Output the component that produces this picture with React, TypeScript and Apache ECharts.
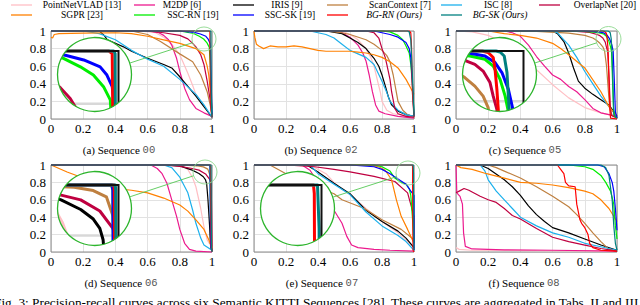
import React, { useEffect, useRef } from 'react';
import * as echarts from 'echarts';

// ---------- legend / methods ----------
const methodNames = [
  'PointNetVLAD [13]', 'M2DP [6]', 'IRIS [9]', 'ScanContext [7]', 'ISC [8]', 'OverlapNet [20]',
  'SGPR [23]', 'SSC-RN [19]', 'SSC-SK [19]', 'BG-RN (Ours)', 'BG-SK (Ours)',
];
const methodColors = [
  '#ffbfc4', '#ec1a8e', '#000000', '#bf8040', '#1cb0ec', '#bf0040',
  '#ff8000', '#00ee00', '#0000ff', '#ff0000', '#008080',
];
const italicMethods = [false, false, false, false, false, false, false, false, false, true, true];

// ---------- captions ----------
const captionPrefix = ['(a) Sequence ', '(b) Sequence ', '(c) Sequence ', '(d) Sequence ', '(e) Sequence ', '(f) Sequence '];
const sequenceIds = ['00', '02', '05', '06', '07', '08'];
const figureCaption = 'Fig. 3: Precision-recall curves across six Semantic KITTI Sequences [28]. These curves are aggregated in Tabs. II and III';

// ---------- data: [recall, precision] per method, order as methodNames ----------
const seq00 = [
  [[0, 1], [0.55, 1], [0.65, 0.98], [0.7, 0.93], [0.75, 0.85], [0.8, 0.73], [0.85, 0.52], [0.88, 0.38], [0.9, 0.28], [0.95, 0.14], [1, 0.03]],
  [[0, 1], [0.6, 1], [0.67, 0.98], [0.7, 0.95], [0.73, 0.9], [0.75, 0.84], [0.78, 0.69], [0.8, 0.54], [0.83, 0.35], [0.86, 0.22], [0.9, 0.12], [0.95, 0.07], [1, 0.03]],
  [[0, 1], [0.3, 1], [0.33, 0.95], [0.35, 0.9], [0.4, 0.86], [0.45, 0.82], [0.5, 0.77], [0.6, 0.69], [0.7, 0.62], [0.75, 0.58], [0.8, 0.48], [0.85, 0.37], [0.9, 0.26], [0.95, 0.14], [1, 0.02]],
  [[0, 1], [0.5, 1], [0.6, 0.96], [0.68, 0.88], [0.8, 0.74], [0.88, 0.65], [0.93, 0.5], [0.97, 0.31], [0.99, 0.15], [1, 0.03]],
  [[0, 1], [0.2, 1], [0.3, 0.97], [0.4, 0.9], [0.5, 0.78], [0.6, 0.68], [0.7, 0.6], [0.8, 0.45], [0.9, 0.28], [0.95, 0.16], [1, 0.02]],
  [[0, 1], [0.6, 1], [0.7, 0.98], [0.8, 0.95], [0.85, 0.91], [0.88, 0.86], [0.9, 0.82], [0.93, 0.73], [0.95, 0.62], [0.97, 0.43], [0.99, 0.2], [1, 0.02]],
  [[0, 0.93], [0.01, 0.92], [0.02, 0.96], [0.05, 0.97], [0.2, 0.975], [0.4, 0.98], [0.5, 0.97], [0.6, 0.94], [0.7, 0.9], [0.8, 0.86], [0.9, 0.8], [0.95, 0.73], [0.97, 0.6], [0.98, 0.5], [0.99, 0.3], [1, 0.12]],
  [[0, 1], [0.8, 1], [0.86, 0.98], [0.886, 0.972], [0.921, 0.94], [0.948, 0.909], [0.969, 0.865], [0.983, 0.815], [0.99, 0.6], [0.995, 0.3], [1, 0.05]],
  [[0, 1], [0.8, 1], [0.86, 0.99], [0.89, 0.984], [0.928, 0.966], [0.962, 0.94], [0.976, 0.909], [0.987, 0.865], [0.99, 0.815], [0.995, 0.4], [1, 0.05]],
  [[0, 1], [0.98, 1], [0.987, 0.99], [0.988, 0.8], [0.99, 0.4], [0.995, 0.1], [1, 0.02]],
  [[0, 1], [0.99, 1], [0.993, 0.99], [0.994, 0.5], [0.997, 0.1], [1, 0.02]],
];

const seq02 = [
  [[0, 1], [0.55, 1], [0.6, 0.96], [0.65, 0.9], [0.7, 0.8], [0.73, 0.7], [0.75, 0.6], [0.77, 0.45], [0.79, 0.3], [0.8, 0.2], [0.83, 0.1], [0.87, 0.06], [1, 0.02]],
  [[0, 1], [0.5, 1], [0.55, 0.98], [0.6, 0.93], [0.65, 0.84], [0.68, 0.75], [0.7, 0.66], [0.72, 0.5], [0.74, 0.31], [0.76, 0.16], [0.78, 0.09], [0.82, 0.06], [0.9, 0.03], [1, 0.01]],
  [[0, 1], [0.45, 1], [0.55, 0.97], [0.6, 0.92], [0.65, 0.87], [0.7, 0.8], [0.75, 0.69], [0.78, 0.6], [0.8, 0.5], [0.82, 0.38], [0.84, 0.25], [0.86, 0.16], [0.9, 0.09], [0.95, 0.05], [1, 0.03]],
  [[0, 1], [0.45, 1], [0.55, 0.98], [0.6, 0.96], [0.7, 0.9], [0.75, 0.85], [0.8, 0.78], [0.83, 0.72], [0.85, 0.65], [0.87, 0.5], [0.88, 0.4], [0.9, 0.2], [0.93, 0.1], [0.96, 0.05], [1, 0.02]],
  [[0, 1], [0.35, 1], [0.45, 0.96], [0.5, 0.92], [0.55, 0.85], [0.6, 0.78], [0.65, 0.74], [0.7, 0.7], [0.75, 0.62], [0.8, 0.43], [0.83, 0.3], [0.85, 0.2], [0.9, 0.1], [0.95, 0.05], [1, 0.03]],
  [[0, 1], [0.7, 1], [0.75, 0.98], [0.78, 0.92], [0.8, 0.8], [0.82, 0.7], [0.83, 0.62], [0.85, 0.45], [0.86, 0.31], [0.88, 0.12], [0.9, 0.06], [0.95, 0.03], [1, 0.02]],
  [[0, 1], [0.005, 0.93], [0.015, 0.85], [0.03, 0.83], [0.06, 0.8], [0.1, 0.83], [0.15, 0.82], [0.2, 0.82], [0.25, 0.83], [0.3, 0.82], [0.35, 0.8], [0.4, 0.78], [0.45, 0.77], [0.5, 0.77], [0.6, 0.77], [0.65, 0.76], [0.7, 0.75], [0.75, 0.73], [0.8, 0.7], [0.85, 0.65], [0.9, 0.58], [0.95, 0.45], [0.98, 0.35], [1, 0.28]],
  [[0, 1], [0.8, 1], [0.85, 0.99], [0.9, 0.95], [0.93, 0.9], [0.95, 0.83], [0.97, 0.75], [0.98, 0.62], [0.99, 0.4], [1, 0.05]],
  [[0, 1], [0.75, 1], [0.8, 0.98], [0.85, 0.96], [0.9, 0.93], [0.95, 0.87], [0.97, 0.8], [0.98, 0.7], [0.99, 0.4], [1, 0.03]],
  [[0, 1], [0.97, 1], [0.98, 0.98], [0.985, 0.8], [0.99, 0.3], [1, 0.02]],
  [[0, 1], [0.96, 1], [0.97, 0.99], [0.98, 0.9], [0.99, 0.5], [1, 0.03]],
];

const seq05 = [
  [[0, 1], [0.1, 0.99], [0.2, 0.95], [0.3, 0.86], [0.4, 0.72], [0.5, 0.56], [0.6, 0.39], [0.7, 0.24], [0.8, 0.13], [0.9, 0.07], [1, 0.03]],
  [[0, 1], [0.3, 1], [0.35, 0.98], [0.4, 0.94], [0.45, 0.84], [0.5, 0.71], [0.55, 0.6], [0.6, 0.5], [0.65, 0.45], [0.7, 0.37], [0.75, 0.31], [0.8, 0.22], [0.85, 0.12], [0.9, 0.07], [0.95, 0.05], [1, 0.03]],
  [[0, 1], [0.6, 1], [0.63, 0.97], [0.67, 0.88], [0.7, 0.75], [0.73, 0.58], [0.76, 0.43], [0.8, 0.35], [0.85, 0.28], [0.9, 0.22], [0.95, 0.16], [1, 0.03]],
  [[0, 1], [0.5, 0.995], [0.7, 0.975], [0.8, 0.95], [0.85, 0.92], [0.872, 0.894], [0.894, 0.86], [0.912, 0.82], [0.923, 0.774], [0.935, 0.6], [0.945, 0.35], [0.955, 0.12], [0.97, 0.04], [1, 0.02]],
  [[0, 1], [0.6, 1], [0.63, 0.98], [0.66, 0.92], [0.7, 0.84], [0.75, 0.7], [0.8, 0.54], [0.85, 0.4], [0.9, 0.26], [0.95, 0.14], [1, 0.03]],
  [[0, 1], [0.75, 0.995], [0.83, 0.985], [0.876, 0.96], [0.894, 0.947], [0.912, 0.92], [0.927, 0.874], [0.934, 0.82], [0.942, 0.767], [0.95, 0.5], [0.958, 0.15], [0.965, 0.04], [1, 0.01]],
  [[0, 1], [0.2, 1], [0.3, 0.97], [0.4, 0.95], [0.5, 0.92], [0.6, 0.86], [0.65, 0.8], [0.7, 0.73], [0.8, 0.58], [0.9, 0.31], [0.95, 0.14], [1, 0.03]],
  [[0, 1], [0.8, 0.995], [0.883, 0.98], [0.916, 0.967], [0.934, 0.94], [0.949, 0.887], [0.96, 0.82], [0.966, 0.767], [0.972, 0.45], [0.978, 0.12], [0.985, 0.03], [1, 0.01]],
  [[0, 1], [0.8, 1], [0.883, 0.991], [0.916, 0.98], [0.938, 0.954], [0.953, 0.914], [0.967, 0.847], [0.976, 0.774], [0.983, 0.45], [0.99, 0.08], [1, 0.01]],
  [[0, 1], [0.91, 1], [0.923, 0.994], [0.934, 0.974], [0.938, 0.927], [0.942, 0.847], [0.945, 0.767], [0.95, 0.45], [0.956, 0.1], [0.96, 0.01], [1, 0]],
  [[0, 1], [0.94, 1], [0.949, 0.996], [0.958, 0.98], [0.964, 0.914], [0.967, 0.82], [0.969, 0.76], [0.975, 0.4], [0.98, 0.05], [1, 0.01]],
];

const seq06 = [
  [[0, 1], [0.8, 1], [0.85, 0.95], [0.88, 0.85], [0.9, 0.75], [0.93, 0.5], [0.95, 0.29], [0.97, 0.14], [1, 0.05]],
  [[0, 1], [0.62, 1], [0.66, 0.96], [0.69, 0.9], [0.72, 0.79], [0.75, 0.6], [0.78, 0.41], [0.8, 0.26], [0.83, 0.1], [0.86, 0.03], [0.9, 0.01], [1, 0]],
  [[0, 1], [0.7, 1], [0.8, 0.99], [0.877, 0.941], [0.919, 0.903], [0.946, 0.865], [0.96, 0.828], [0.967, 0.783], [0.975, 0.6], [0.985, 0.3], [0.99, 0.1], [1, 0.01]],
  [[0, 1], [0.8, 1], [0.905, 0.991], [0.946, 0.978], [0.974, 0.953], [0.988, 0.878], [0.991, 0.796], [0.995, 0.4], [1, 0.02]],
  [[0, 1], [0.7, 1], [0.75, 0.97], [0.8, 0.86], [0.85, 0.68], [0.88, 0.48], [0.9, 0.33], [0.93, 0.16], [0.95, 0.08], [1, 0.02]],
  [[0, 1], [0.7, 1], [0.8, 0.985], [0.877, 0.96], [0.919, 0.941], [0.96, 0.897], [0.988, 0.828], [0.995, 0.79], [0.998, 0.4], [1, 0.02]],
  [[0, 1], [0.1, 0.92], [0.2, 0.85], [0.3, 0.77], [0.4, 0.73], [0.5, 0.71], [0.6, 0.68], [0.7, 0.62], [0.8, 0.54], [0.85, 0.47], [0.9, 0.37], [0.95, 0.26], [0.98, 0.14], [1, 0.05]],
  [[0, 1], [0.985, 1], [0.988, 0.98], [0.99, 0.5], [0.993, 0.05], [1, 0.01]],
  [[0, 1], [0.986, 1], [0.988, 0.98], [0.989, 0.5], [0.992, 0.05], [1, 0.01]],
  [[0, 1], [0.99, 1], [0.991, 0.98], [0.992, 0.5], [0.995, 0.05], [1, 0]],
  [[0, 1], [0.993, 1], [0.994, 0.98], [0.995, 0.5], [0.997, 0.05], [1, 0]],
];

const seq07 = [
  [[0, 1], [0.35, 1], [0.45, 0.9], [0.5, 0.8], [0.55, 0.72], [0.6, 0.66], [0.7, 0.5], [0.8, 0.35], [0.9, 0.22], [1, 0.05]],
  [[0, 1], [0.3, 1], [0.35, 0.94], [0.4, 0.8], [0.45, 0.65], [0.5, 0.48], [0.55, 0.33], [0.58, 0.18], [0.61, 0.08], [0.65, 0.05], [0.75, 0.03], [0.85, 0.02], [1, 0.01]],
  [[0, 1], [0.33, 1], [0.4, 0.92], [0.5, 0.79], [0.6, 0.67], [0.7, 0.48], [0.8, 0.35], [0.9, 0.24], [0.95, 0.16], [1, 0.05]],
  [[0, 1], [0.1, 1], [0.2, 0.9], [0.3, 0.82], [0.4, 0.74], [0.5, 0.67], [0.55, 0.6], [0.69, 0.5], [0.8, 0.37], [0.92, 0.26], [1, 0.14]],
  [[0, 1], [0.35, 1], [0.4, 0.9], [0.5, 0.78], [0.6, 0.66], [0.7, 0.46], [0.8, 0.3], [0.9, 0.19], [0.95, 0.12], [1, 0.02]],
  [[0, 1], [0.2, 1], [0.38, 0.98], [0.5, 0.95], [0.6, 0.92], [0.75, 0.87], [0.88, 0.81], [0.96, 0.68], [1, 0.41], [1, 0.1]],
  [[0, 1], [0.7, 1], [0.78, 0.98], [0.82, 0.94], [0.86, 0.83], [0.89, 0.6], [0.92, 0.41], [0.96, 0.26], [1, 0.1]],
  [[0, 1], [0.75, 1], [0.8, 0.98], [0.85, 0.93], [0.88, 0.85], [0.92, 0.8], [0.95, 0.78], [0.97, 0.73], [0.98, 0.65], [0.99, 0.4], [1, 0.1]],
  [[0, 1], [0.6, 1], [0.75, 0.98], [0.8, 0.95], [0.85, 0.9], [0.9, 0.84], [0.95, 0.78], [0.98, 0.7], [1, 0.65], [1, 0.02]],
  [[0, 1], [0.99, 1], [0.991, 0.98], [0.992, 0.5], [0.994, 0.02], [1, 0]],
  [[0, 1], [0.995, 1], [0.997, 0.9], [0.998, 0.5], [1, 0.02]],
];

const seq08 = [
  [[0, 0.05], [0.02, 0.03], [0.1, 0.02], [0.5, 0.015], [1, 0.01]],
  [[0, 1], [0.005, 0.68], [0.025, 0.64], [0.04, 0.55], [0.047, 0.22], [0.058, 0.065], [0.1, 0.035], [0.3, 0.025], [0.6, 0.02], [1, 0.01]],
  [[0, 1], [0.15, 1], [0.2, 0.96], [0.3, 0.83], [0.35, 0.75], [0.4, 0.65], [0.45, 0.53], [0.5, 0.43], [0.55, 0.35], [0.6, 0.28], [0.7, 0.22], [0.8, 0.15], [0.9, 0.08], [1, 0.02]],
  [[0, 1], [0.2, 1], [0.25, 0.97], [0.3, 0.93], [0.4, 0.85], [0.5, 0.75], [0.6, 0.64], [0.7, 0.52], [0.75, 0.43], [0.8, 0.33], [0.85, 0.22], [0.9, 0.12], [0.95, 0.03], [1, 0.01]],
  [[0, 1], [0.15, 1], [0.18, 0.93], [0.2, 0.83], [0.25, 0.7], [0.3, 0.6], [0.35, 0.5], [0.4, 0.4], [0.5, 0.3], [0.6, 0.22], [0.7, 0.17], [0.8, 0.1], [0.9, 0.06], [1, 0.02]],
  [[0, 0.68], [0.02, 0.7], [0.05, 0.73], [0.08, 0.71], [0.1, 0.69], [0.15, 0.64], [0.2, 0.6], [0.25, 0.57], [0.3, 0.5], [0.35, 0.42], [0.4, 0.38], [0.5, 0.27], [0.6, 0.17], [0.7, 0.12], [0.8, 0.08], [0.9, 0.04], [1, 0.01]],
  [[0, 1], [0.03, 0.97], [0.1, 0.95], [0.19, 0.9], [0.3, 0.85], [0.4, 0.8], [0.5, 0.79], [0.6, 0.77], [0.7, 0.74], [0.8, 0.7], [0.85, 0.67], [0.9, 0.6], [0.95, 0.5], [1, 0.35]],
  [[0, 1], [0.7, 1], [0.8, 0.98], [0.85, 0.95], [0.9, 0.88], [0.93, 0.8], [0.96, 0.7], [0.98, 0.55], [0.99, 0.3], [1, 0.15]],
  [[0, 1], [0.88, 1], [0.92, 0.98], [0.95, 0.9], [0.97, 0.8], [0.98, 0.7], [0.99, 0.5], [1, 0.25]],
  [[0, 1], [0.6, 1], [0.63, 1], [0.65, 0.95], [0.67, 0.9], [0.68, 0.8], [0.7, 0.76], [0.74, 0.75], [0.75, 0.55], [0.77, 0.37], [0.78, 0.33], [0.8, 0.28], [0.82, 0.2], [0.83, 0.1], [0.85, 0.05], [0.9, 0.02], [1, 0.01]],
  [[0, 1], [0.9, 1], [0.93, 0.97], [0.95, 0.88], [0.97, 0.6], [0.98, 0.3], [0.99, 0.1], [1, 0.02]],
];

const allSequences = [seq00, seq02, seq05, seq06, seq07, seq08];
const frameBox = [[0, 0], [0, 1], [1, 1], [1, 0], [0, 0]];
const insetFrame = [[0, 1], [1, 1], [1, 0]];

// ---------- layout ----------
const panels = [
  { left: 51, top: 31, width: 161, height: 88 },
  { left: 254, top: 31, width: 160, height: 88 },
  { left: 456, top: 31, width: 161, height: 88 },
  { left: 51, top: 165, width: 161, height: 87 },
  { left: 254, top: 165, width: 160, height: 87 },
  { left: 456, top: 165, width: 161, height: 87 },
];
const captionPos = [[119, 150], [321, 150], [525, 150], [121, 283], [322, 283], [524, 283]];
const insets = [
  { panel: 0, m: 3.0, small: [204, 39, 12] },
  { panel: 2, m: 2.85, small: [608.5, 39, 12.5] },
  { panel: 3, m: 2.9, small: [205, 172, 12] },
  { panel: 4, m: 5.0, small: [408, 173, 12] },
];
const R = 37;

const SERIF = 'Liberation Serif';
const MONO = 'Liberation Mono';

export default function App() {
  const ref = useRef<HTMLDivElement>(null);
  useEffect(() => {
    if (!ref.current) return;
    const chart = echarts.init(ref.current, undefined, { renderer: 'svg' });

    const grids: any[] = [];
    const xAxes: any[] = [];
    const yAxes: any[] = [];
    const series: any[] = [];
    const graphics: any[] = [];

    const fmt = (v: number) => String(Math.round(v * 10) / 10);

    panels.forEach((p, pi) => {
      grids.push({ left: p.left, top: p.top, width: p.width, height: p.height, show: false });
      const common = {
        gridIndex: pi, type: 'value', min: 0, max: 1, interval: 0.2,
        axisLine: { show: false }, axisTick: { show: false },
        splitLine: { show: true, lineStyle: { color: '#e2e2e2', width: 1 } },
        axisLabel: { fontFamily: SERIF, fontSize: 13, color: '#000', margin: 3, formatter: fmt },
      };
      xAxes.push({ ...common });
      yAxes.push({ ...common, axisLabel: { ...common.axisLabel, margin: 5 } });
      series.push({
        type: 'line', xAxisIndex: pi, yAxisIndex: pi, data: frameBox, symbol: 'none',
        lineStyle: { color: '#8a8a8a', width: 1 }, clip: false, silent: true, z: 2,
      });
      allSequences[pi].forEach((curve, ci) => {
        series.push({
          type: 'line', name: methodNames[ci], xAxisIndex: pi, yAxisIndex: pi, data: curve,
          symbol: 'none', showSymbol: false, clip: false, silent: true, z: 2,
          lineStyle: { color: methodColors[ci], width: 1.2 }, itemStyle: { color: methodColors[ci] },
        });
      });
      graphics.push({
        type: 'text', z: 10, silent: true,
        style: {
          x: captionPos[pi][0], y: captionPos[pi][1],
          text: `{a|${captionPrefix[pi]}}{b|${sequenceIds[pi]}}`,
          align: 'center', verticalAlign: 'middle', textAlign: 'center', textVerticalAlign: 'middle',
          rich: {
            a: { fontFamily: SERIF, fontSize: 11, fill: '#000' },
            b: { fontFamily: MONO, fontSize: 10.5, fill: '#555' },
          },
        },
      });
    });

    insets.forEach((ins, k) => {
      const p = panels[ins.panel];
      const gi = panels.length + k;
      const bx = p.left + 43.5;
      const by = p.top + 43.5;
      const W = p.width, H = p.height, m = ins.m;
      const xmin = 1 - (R + 24) / (m * W);
      const xmax = 1 + (R - 24) / (m * W);
      const ymax = 1 + (R - 23.5) / (m * H);
      const ymin = 1 - (R + 23.5) / (m * H);
      grids.push({ left: bx - R, top: by - R, width: 2 * R, height: 2 * R, show: false });
      xAxes.push({ gridIndex: gi, type: 'value', min: xmin, max: xmax, show: false, splitLine: { show: false } });
      yAxes.push({ gridIndex: gi, type: 'value', min: ymin, max: ymax, show: false, splitLine: { show: false } });
      const curves = allSequences[ins.panel];
      const n = curves.length;
      const items = [['bg'], ['grid'], ...curves.map((_, i) => ['c' + i]), ['frame'], ['border']];
      series.push({
        type: 'custom', coordinateSystem: 'cartesian2d', xAxisIndex: gi, yAxisIndex: gi,
        silent: true, z: 5, clip: false,
        data: items.map(() => [1, 1]),
        renderItem: (params: any, api: any) => {
          const i = params.dataIndex;
          const clip = { type: 'circle', shape: { cx: bx, cy: by, r: R } };
          if (i === 0) {
            return { type: 'circle', shape: { cx: bx, cy: by, r: R }, style: { fill: '#ffffff', stroke: 'none' } };
          }
          if (i === 1) {
            const children: any[] = [];
            [0.2, 0.4, 0.6, 0.8].forEach((g) => {
              if (g > ymin && g < ymax) {
                const a = api.coord([xmin, g]);
                const b = api.coord([xmax, g]);
                children.push({ type: 'line', shape: { x1: a[0], y1: a[1], x2: b[0], y2: b[1] }, style: { stroke: '#d8d8d8', lineWidth: 2.5 } });
              }
              if (g > xmin && g < xmax) {
                const a = api.coord([g, ymin]);
                const b = api.coord([g, ymax]);
                children.push({ type: 'line', shape: { x1: a[0], y1: a[1], x2: b[0], y2: b[1] }, style: { stroke: '#d8d8d8', lineWidth: 2.5 } });
              }
            });
            return { type: 'group', children, clipPath: clip };
          }
          if (i < 2 + n) {
            const ci = i - 2;
            const pts = curves[ci].map((pt) => api.coord(pt));
            return {
              type: 'polyline', shape: { points: pts },
              style: { stroke: methodColors[ci], lineWidth: 3, fill: 'none', lineJoin: 'round' },
              clipPath: clip,
            };
          }
          if (i === 2 + n) {
            const pts = insetFrame.map((pt) => api.coord(pt));
            return { type: 'polyline', shape: { points: pts }, style: { stroke: '#111', lineWidth: 2, fill: 'none' }, clipPath: clip };
          }
          return { type: 'circle', shape: { cx: bx, cy: by, r: R }, style: { fill: 'none', stroke: '#2db52d', lineWidth: 1.3 } };
        },
      });
      const [sx, sy, sr] = ins.small;
      const dx = sx - bx, dy = sy - by;
      const d = Math.sqrt(dx * dx + dy * dy);
      const ux = dx / d, uy = dy / d;
      graphics.push({
        type: 'circle', z: 10, silent: true,
        shape: { cx: sx, cy: sy, r: sr }, style: { fill: 'none', stroke: '#8fd88f', lineWidth: 0.9 },
      });
      graphics.push({
        type: 'line', z: 10, silent: true,
        shape: { x1: bx + ux * R, y1: by + uy * R, x2: sx - ux * sr, y2: sy - uy * sr },
        style: { stroke: '#55c855', lineWidth: 0.9 },
      });
    });

    // legend
    const lineX = [11, 134, 233, 327, 441, 539];
    const textX = [[82, 182, 287, 400, 498, 605], [82, 193, 290, 394, 500]];
    const rowY = [5, 15];
    methodNames.forEach((name, i) => {
      const row = i < 6 ? 0 : 1;
      const col = row === 0 ? i : i - 6;
      graphics.push({
        type: 'line', z: 10, silent: true,
        shape: { x1: lineX[col], y1: rowY[row], x2: lineX[col] + 21, y2: rowY[row] },
        style: { stroke: methodColors[i], lineWidth: 1.3 },
      });
      graphics.push({
        type: 'text', z: 10, silent: true,
        style: {
          x: textX[row][col], y: rowY[row], text: name,
          fontFamily: SERIF, fontSize: 9.5, fontStyle: italicMethods[i] ? 'italic' : 'normal', fill: '#000',
          align: 'center', verticalAlign: 'middle', textAlign: 'center', textVerticalAlign: 'middle',
        },
      });
    });

    graphics.push({
      type: 'text', z: 10, silent: true,
      style: {
        x: -6, y: 296, text: figureCaption, fontFamily: SERIF, fontSize: 13.3, fill: '#000',
        align: 'left', verticalAlign: 'top', textAlign: 'left', textVerticalAlign: 'top',
      },
    });

    chart.setOption({
      animation: false,
      backgroundColor: '#ffffff',
      grid: grids,
      xAxis: xAxes,
      yAxis: yAxes,
      series,
      graphic: { elements: graphics },
    });
    return () => chart.dispose();
  }, []);
  return <div ref={ref} style={{ position: 'absolute', left: 0, top: 0, width: 640, height: 305 }} />;
}
